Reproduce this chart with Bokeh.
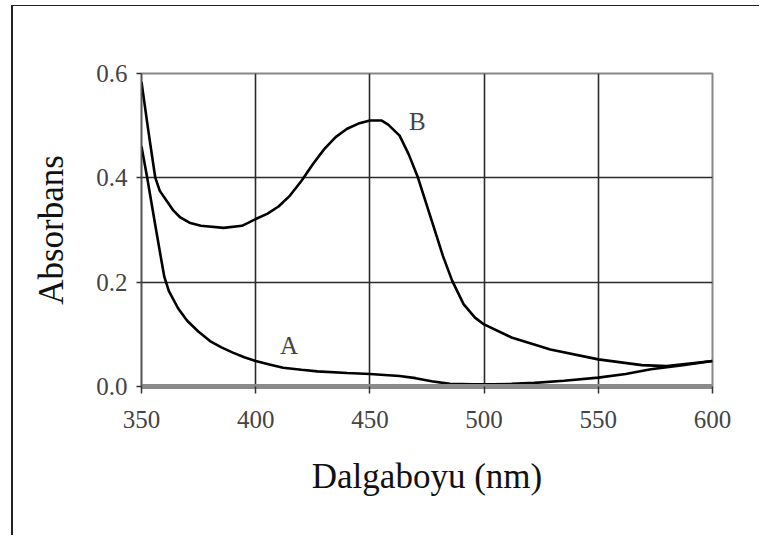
from bokeh.plotting import figure
from bokeh.models import Range1d, FixedTicker, NumeralTickFormatter, ColumnDataSource
from bokeh.core.properties import value
from bokeh.embed import file_html
from bokeh.resources import INLINE

# Spectrum A
wl_A = [350, 352.5, 356, 358.5, 360, 362, 366, 370, 375, 380, 385, 390, 395, 400,
        406, 412, 420, 427, 440, 450, 463, 470, 477, 485, 495, 504, 512, 522, 535,
        550, 562, 573, 587, 600]
abs_A = [0.46, 0.40, 0.31, 0.247, 0.21, 0.183, 0.150, 0.126, 0.105, 0.087, 0.075,
         0.065, 0.056, 0.049, 0.042, 0.036, 0.032, 0.029, 0.026, 0.024, 0.020, 0.016,
         0.010, 0.005, 0.004, 0.004, 0.005, 0.007, 0.011, 0.017, 0.024, 0.033, 0.041,
         0.049]

# Spectrum B
wl_B = [350, 353, 356, 358, 361, 364, 367, 371, 376, 386, 394, 400, 405, 410, 415,
        420, 425, 430, 435, 440, 445, 450, 455, 458, 463, 467, 471, 478, 482, 486,
        491, 496, 500, 512, 529, 550, 569, 580, 600]
abs_B = [0.584, 0.49, 0.401, 0.375, 0.356, 0.337, 0.324, 0.314, 0.308, 0.304, 0.308,
         0.321, 0.331, 0.345, 0.366, 0.394, 0.426, 0.455, 0.478, 0.494, 0.504, 0.510,
         0.510, 0.502, 0.481, 0.445, 0.401, 0.305, 0.250, 0.203, 0.158, 0.132, 0.119,
         0.094, 0.071, 0.052, 0.041, 0.039, 0.049]

# Curve labels
label_text = ["A", "B"]
label_x = [414.6, 470.8]
label_y = [0.079, 0.508]

x_ticks = [350, 400, 450, 500, 550, 600]
y_ticks = [0.0, 0.2, 0.4, 0.6]

FONT = "Liberation Serif"

p = figure(width=748, height=530, output_backend="svg", toolbar_location=None,
           x_range=Range1d(350, 600), y_range=Range1d(0, 0.6),
           min_border_left=128, min_border_right=49, min_border_top=67,
           min_border_bottom=150,
           styles={"margin-left": "11px", "margin-top": "5px",
                   "border-left": "2px solid #222", "border-top": "1px solid #222"})

p.background_fill_color = "white"
p.border_fill_color = "white"
p.outline_line_color = "#888888"
p.outline_line_width = 2

p.xaxis.ticker = FixedTicker(ticks=x_ticks)
p.yaxis.ticker = FixedTicker(ticks=y_ticks)
p.yaxis.formatter = NumeralTickFormatter(format="0.0")
p.xgrid.ticker = FixedTicker(ticks=x_ticks)
p.ygrid.ticker = FixedTicker(ticks=[0.2, 0.4])

for g in (p.xgrid, p.ygrid):
    g.grid_line_color = "#2a2a2a"
    g.grid_line_width = 1.6

for ax in (p.xaxis, p.yaxis):
    ax.major_label_text_font = FONT
    ax.major_label_text_font_size = "25px"
    ax.major_label_text_color = "#444444"
    ax.axis_label_text_font = FONT
    ax.axis_label_text_font_size = "35px"
    ax.axis_label_text_font_style = "normal"
    ax.axis_label_text_color = "#111111"
    ax.minor_tick_line_color = None
    ax.major_tick_in = 0
    ax.major_tick_line_color = "#333333"
    ax.major_tick_line_width = 1.5

p.xaxis.axis_label = "Dalgaboyu (nm)"
p.yaxis.axis_label = "Absorbans"
p.xaxis.major_tick_out = 7
p.yaxis.major_tick_out = 5
p.xaxis.major_label_standoff = 17
p.yaxis.major_label_standoff = 9
p.xaxis.axis_label_standoff = 26
p.yaxis.axis_label_standoff = 22
p.xaxis.axis_line_color = "#8a8a8a"
p.xaxis.axis_line_width = 5
p.yaxis.axis_line_color = "#555555"
p.yaxis.axis_line_width = 1.5

p.line(wl_A, abs_A, line_color="black", line_width=2.6)
p.line(wl_B, abs_B, line_color="black", line_width=2.6)

src = ColumnDataSource(dict(x=label_x, y=label_y, t=label_text))
p.text(x="x", y="y", text="t", source=src, text_font=value(FONT),
       text_font_size="25px", text_color="#444444",
       text_align="center", text_baseline="middle")

open("out.html", "w").write(file_html(p, INLINE))
